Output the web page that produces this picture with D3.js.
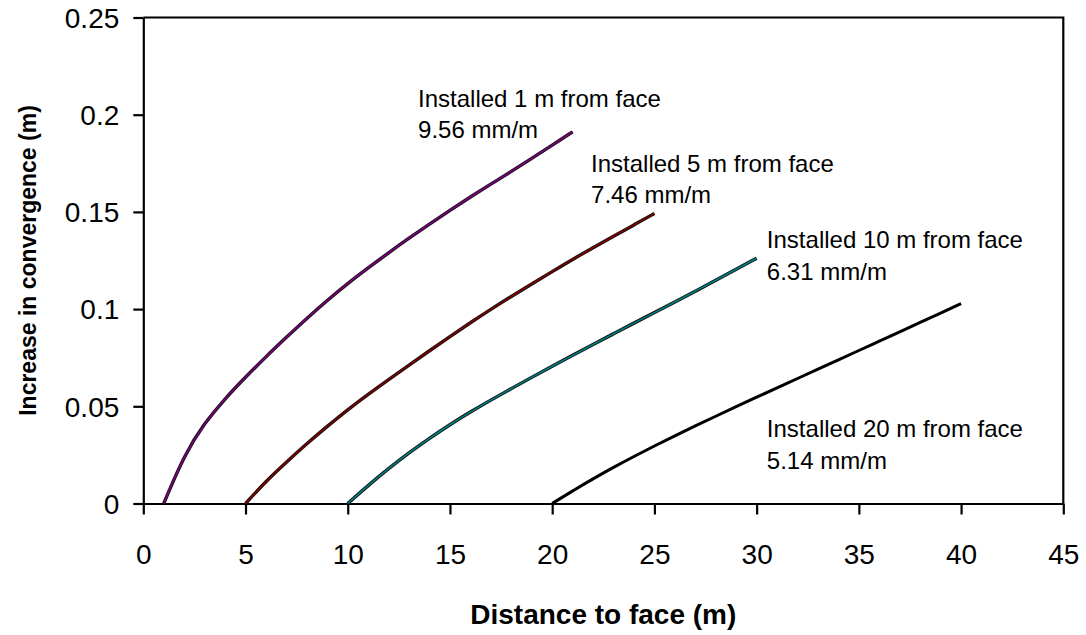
<!DOCTYPE html>
<html>
<head>
<meta charset="utf-8">
<script src="https://cdn.jsdelivr.net/npm/d3@7"></script>
<style>
  html, body { margin: 0; padding: 0; background: #fff; }
  svg { display: block; font-family: Arial, "Liberation Sans", sans-serif; }
</style>
</head>
<body>
<svg id="chart" width="1086" height="635"></svg>
<script>
// Convergence increase after installation, by installation distance from the face
const distance1 = [1, 2, 3, 4, 5, 6, 7, 8, 9, 10, 11, 12, 13, 14, 15, 16, 17, 18, 19, 20, 21];
const conv1 = [0, 0.0250, 0.0415, 0.0540, 0.0650, 0.0755, 0.0855, 0.0953, 0.1045, 0.1132, 0.1212, 0.1290, 0.1365, 0.1438, 0.1508, 0.1577, 0.1643, 0.1708, 0.1775, 0.1843, 0.1912];

const distance5 = [5, 6, 7, 8, 9, 10, 11, 12, 13, 14, 15, 16, 17, 18, 19, 20, 21, 22, 23, 24, 25];
const conv5 = [0, 0.0115, 0.0213, 0.0308, 0.0397, 0.0483, 0.0562, 0.0638, 0.0712, 0.0786, 0.0859, 0.0930, 0.0999, 0.1065, 0.1129, 0.1193, 0.1256, 0.1316, 0.1375, 0.1433, 0.1492];

const distance10 = [10, 11, 12, 13, 14, 15, 16, 17, 18, 19, 20, 21, 22, 23, 24, 25, 26, 27, 28, 29, 30];
const conv10 = [0, 0.0093, 0.0180, 0.0261, 0.0336, 0.0406, 0.0471, 0.0532, 0.0591, 0.0649, 0.0706, 0.0762, 0.0818, 0.0873, 0.0928, 0.0982, 0.1036, 0.1092, 0.1148, 0.1205, 0.1262];

const distance20 = [20, 21, 22, 23, 24, 25, 26, 27, 28, 29, 30, 31, 32, 33, 34, 35, 36, 37, 38, 39, 40];
const conv20 = [0, 0.0065, 0.0127, 0.0186, 0.0242, 0.0296, 0.0348, 0.0399, 0.0449, 0.0498, 0.0547, 0.0595, 0.0643, 0.0691, 0.0739, 0.0787, 0.0835, 0.0883, 0.0931, 0.0980, 0.1028];

const seriesNames = ["Installed 1 m from face", "Installed 5 m from face", "Installed 10 m from face", "Installed 20 m from face"];
const rateLabels = ["9.56 mm/m", "7.46 mm/m", "6.31 mm/m", "5.14 mm/m"];
const seriesColors = ["#800080", "#800000", "#008080", "#000000"];

// Annotation anchors in data units (left edge of text, centre of first line)
const labelX = [13.44, 21.9, 30.5, 30.5];
const labelY = [0.2083, 0.1750, 0.1355, 0.0383];

const xTicks = [0, 5, 10, 15, 20, 25, 30, 35, 40, 45];
const yTicks = [0, 0.05, 0.1, 0.15, 0.2, 0.25];
const yTickLabels = ["0", "0.05", "0.1", "0.15", "0.2", "0.25"];

const series = [
  { x: distance1, y: conv1 },
  { x: distance5, y: conv5 },
  { x: distance10, y: conv10 },
  { x: distance20, y: conv20 }
].map((s, i) => ({
  name: seriesNames[i],
  rate: rateLabels[i],
  color: seriesColors[i],
  lx: labelX[i],
  ly: labelY[i],
  points: s.x.map((d, j) => [d, s.y[j]])
}));

const svg = d3.select("#chart");
const plot = { left: 143.3, right: 1063.3, top: 17.5, bottom: 503.5 };

const x = d3.scaleLinear().domain([0, 45]).range([plot.left, plot.right]);
const y = d3.scaleLinear().domain([0, 0.25]).range([plot.bottom, plot.top]);

// Plot frame (top and right edges)
svg.append("path")
  .attr("d", `M${plot.left},${plot.top}H${plot.right}V${plot.bottom}`)
  .attr("fill", "none").attr("stroke", "#000").attr("stroke-width", 2.2);

// Axes
const xAxis = svg.append("g")
  .attr("transform", `translate(0,${plot.bottom})`)
  .call(d3.axisBottom(x).tickValues(xTicks).tickSize(11).tickSizeOuter(0).tickPadding(30).tickFormat(d3.format("d")));
const yAxis = svg.append("g")
  .attr("transform", `translate(${plot.left},0)`)
  .call(d3.axisLeft(y).tickValues(yTicks).tickSize(10).tickSizeOuter(0).tickPadding(14)
    .tickFormat((d, i) => yTickLabels[i]));

[xAxis, yAxis].forEach(g => {
  g.select(".domain").attr("stroke", "#000").attr("stroke-width", 2.2);
  g.selectAll(".tick line").attr("stroke", "#000").attr("stroke-width", 2.2);
  g.selectAll(".tick text")
    .attr("fill", "#000")
    .style("font-size", "28px")
    .style("font-family", "Arial, 'Liberation Sans', sans-serif");
});
yAxis.selectAll(".tick text").attr("dy", "0.35em");

// Curves
const line = d3.line()
  .x(d => x(d[0]))
  .y(d => y(d[1]))
  .curve(d3.curveBasis);

const curves = svg.append("g");
series.forEach(s => {
  if (s.color !== "#000000") {
    curves.append("path")
      .attr("d", line(s.points))
      .attr("fill", "none")
      .attr("stroke", "#111")
      .attr("stroke-width", 3.4);
    curves.append("path")
      .attr("d", line(s.points))
      .attr("fill", "none")
      .attr("stroke", s.color)
      .attr("stroke-width", 1.6);
  } else {
    curves.append("path")
      .attr("d", line(s.points))
      .attr("fill", "none")
      .attr("stroke", s.color)
      .attr("stroke-width", 3);
  }
});

// Annotations
const notes = svg.append("g")
  .style("font-size", "24px")
  .attr("fill", "#000");
series.forEach(s => {
  const t = notes.append("text")
    .attr("x", x(s.lx))
    .attr("y", y(s.ly))
    .attr("dy", "0.35em");
  t.append("tspan").text(s.name);
  t.append("tspan").attr("x", x(s.lx)).attr("dy", "1.3em").text(s.rate);
});

// Axis titles
svg.append("text")
  .attr("x", (plot.left + plot.right) / 2)
  .attr("y", 624)
  .attr("text-anchor", "middle")
  .style("font-size", "28px")
  .style("font-weight", "bold")
  .text("Distance to face (m)");

svg.append("text")
  .attr("transform", `translate(36,${(plot.top + plot.bottom) / 2}) rotate(-90)`)
  .attr("text-anchor", "middle")
  .style("font-size", "23px")
  .style("font-weight", "bold")
  .text("Increase in convergence (m)");
</script>
</body>
</html>
